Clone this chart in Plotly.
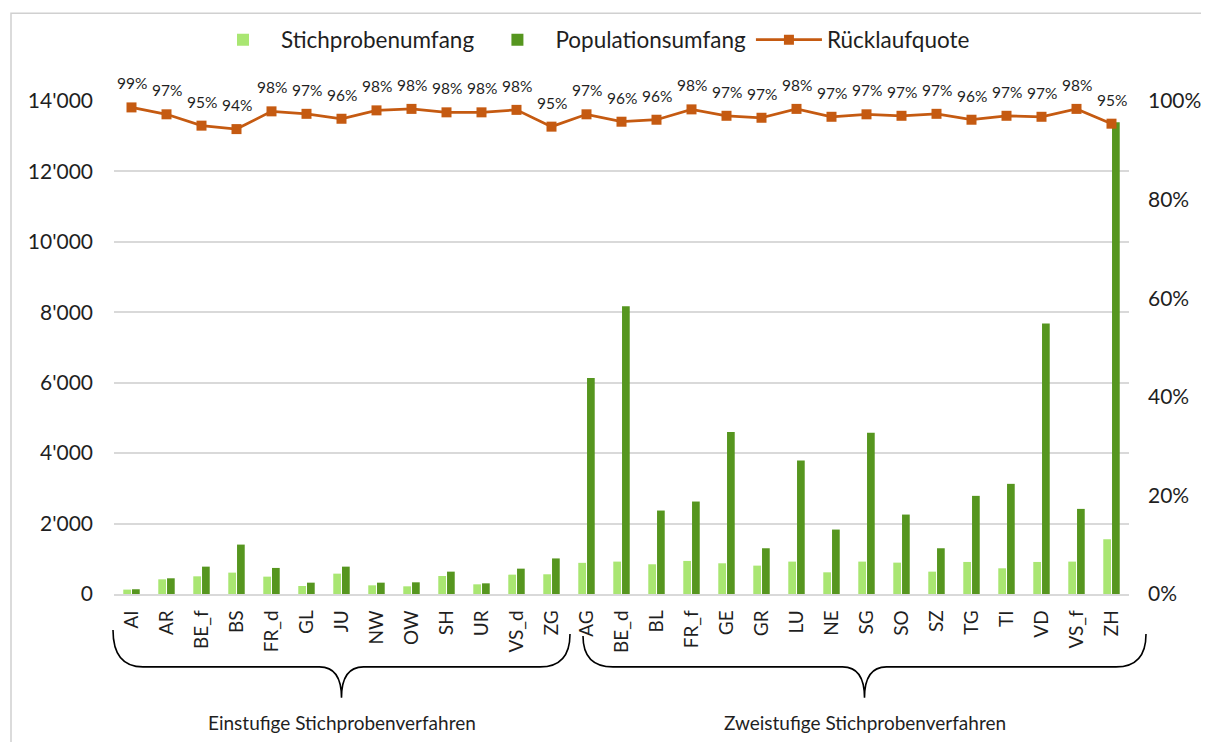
import plotly.graph_objects as go

categories = ["AI", "AR", "BE_f", "BS", "FR_d", "GL", "JU", "NW", "OW", "SH", "UR", "VS_d", "ZG",
              "AG", "BE_d", "BL", "FR_f", "GE", "GR", "LU", "NE", "SG", "SO", "SZ", "TG", "TI", "VD", "VS_f", "ZH"]
stichprobe = [125, 417, 502, 607, 493, 228, 578, 246, 218, 512, 275, 550, 560,
              885, 920, 844, 939, 872, 806, 920, 616, 920, 891, 635, 910, 730, 910, 920, 1555]
population = [135, 446, 777, 1403, 740, 322, 777, 322, 332, 635, 303, 720, 1010,
              6134, 8172, 2370, 2626, 4598, 1299, 3792, 1830, 4579, 2256, 1299, 2787, 3128, 7679, 2417, 13400]
ruecklauf = [0.987, 0.973, 0.950, 0.943, 0.979, 0.974, 0.964, 0.981, 0.984, 0.977, 0.977, 0.982, 0.948,
             0.973, 0.958, 0.962, 0.983, 0.970, 0.966, 0.984, 0.968, 0.973, 0.970, 0.974, 0.962, 0.970, 0.968, 0.984, 0.954]
group_names = ["Einstufige Stichprobenverfahren", "Zweistufige Stichprobenverfahren"]
group_sizes = [13, 16]

FONT = "Lato"
TXT = "#1f1f1f"
N = len(categories)

fig = go.Figure()
fig.add_trace(go.Bar(x=categories, y=stichprobe, name="Stichprobenumfang",
                     marker=dict(color="#A9E672", line=dict(width=0))))
fig.add_trace(go.Bar(x=categories, y=population, name="Populationsumfang",
                     marker=dict(color="#56961F", line=dict(width=0))))
fig.add_trace(go.Scatter(x=categories, y=ruecklauf, name="Rücklaufquote", yaxis="y2",
                         mode="lines+markers",
                         line=dict(color="#C55A11", width=2.75),
                         marker=dict(symbol="square", size=10, color="#C55A11"),
                         cliponaxis=False))

# screen geometry (page has an 8px body margin)
OFF = 8
PX0, PX1, PY0, PY1 = 114, 1129, 100, 594   # plot area on screen
W, H = PX1 - PX0, PY1 - PY0
L, T = PX0 - OFF, PY0 - OFF
R, B = 1209 - L - W, 742 - T - H


def px(p):
    return (p - PX0) / W


def py(p):
    return (PY1 - p) / H


shapes = []
annotations = []

# percentage data labels above the line
for c, v in zip(categories, ruecklauf):
    annotations.append(dict(x=c, y=v, xref="x", yref="y2", text=f"{v:.0%}",
                            showarrow=False, yshift=24, xanchor="center", yanchor="middle",
                            font=dict(family=FONT, size=15.5, color=TXT)))

# braces and group labels (screen pixel geometry)
braces = [(113, 570, 630, 634), (583, 1146, 636, 634)]
for (bx1, bx2, yt1, yt2), name in zip(braces, group_names):
    x1, x2 = px(bx1), px(bx2)
    xm = (x1 + x2) / 2
    dx = 30 / W
    dm = 22 / W
    ymid = py(667)
    ytip = py(698)
    path = (f"M {x1},{py(yt1)} Q {x1},{ymid} {x1+dx},{ymid} L {xm-dm},{ymid} "
            f"Q {xm},{ymid} {xm},{ytip} Q {xm},{ymid} {xm+dm},{ymid} "
            f"L {x2-dx},{ymid} Q {x2},{ymid} {x2},{py(yt2)}")
    shapes.append(dict(type="path", xref="paper", yref="paper", path=path,
                       line=dict(color="#000000", width=1.6)))
    annotations.append(dict(xref="paper", yref="paper", x=xm, y=py(723), text=name,
                            xanchor="center", yanchor="middle",
                            showarrow=False, font=dict(family=FONT, size=19, color=TXT)))

# outer chart border
shapes.append(dict(type="rect", xref="paper", yref="paper",
                   x0=px(11), x1=px(1280), y0=py(820), y1=py(12),
                   line=dict(color="#D0D0D0", width=1.5)))

fig.update_layout(
    width=1209, height=742,
    margin=dict(l=L, r=R, t=T, b=B),
    paper_bgcolor="white", plot_bgcolor="white",
    separators=".'",
    barmode="group", bargap=0.5, bargroupgap=0.12,
    font=dict(family=FONT, color=TXT),
    legend=dict(orientation="h", x=px(590), xanchor="center", y=py(40), yanchor="middle",
                font=dict(family=FONT, size=22.5, color=TXT), traceorder="normal",
                itemwidth=66),
    xaxis=dict(type="category", range=[-0.5, N - 0.5], tickangle=-90, showgrid=False,
               showline=True, linecolor="#D9D9D9", linewidth=1.5,
               ticks="", ticklabelstandoff=7, tickfont=dict(family=FONT, size=19, color=TXT)),
    yaxis=dict(range=[0, 14000], dtick=2000, tickformat=",d",
               showgrid=True, gridcolor="#D9D9D9", gridwidth=1.5, zeroline=False,
               ticklabelstandoff=20,
               tickfont=dict(family=FONT, size=21, color=TXT), ticks=""),
    yaxis2=dict(range=[0, 1], dtick=0.2, tickformat=".0%", overlaying="y", side="right",
                showgrid=False, zeroline=False, ticklabelstandoff=18, ticks="",
                tickfont=dict(family=FONT, size=21, color=TXT)),
    shapes=shapes, annotations=annotations,
)

fig.write_html("out.html")
